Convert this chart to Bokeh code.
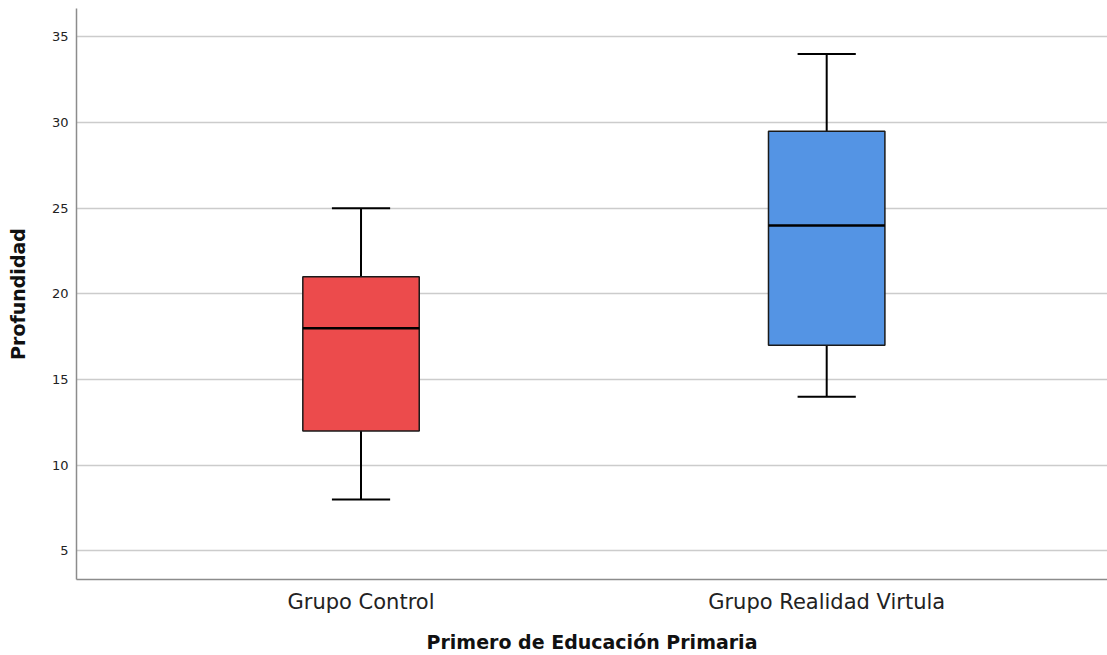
from bokeh.plotting import figure
from bokeh.models import Range1d, FixedTicker
from bokeh.embed import file_html
from bokeh.resources import INLINE

# ---- data ----
categories = ["Grupo Control", "Grupo Realidad Virtula"]
whisker_low = [8, 14]
q1 = [12, 17]
median = [18, 24]
q3 = [21, 29.5]
whisker_high = [25, 34]
box_colors = ["#EC4B4C", "#5494E4"]
y_ticks = [5, 10, 15, 20, 25, 30, 35]

xs = list(range(1, len(categories) + 1))
box_w = 0.25
cap_w = 0.125

p = figure(width=1107, height=655, output_backend="svg", toolbar_location=None,
           x_range=Range1d(0.389, 2.603), y_range=Range1d(3.33, 36.66),
           min_border_left=76, min_border_right=0, min_border_top=8, min_border_bottom=76)
p.outline_line_color = None
p.background_fill_color = "white"
p.border_fill_color = "white"

# whiskers
p.segment(x0=xs, y0=q3, x1=xs, y1=whisker_high, line_color="black", line_width=2)
p.segment(x0=xs, y0=q1, x1=xs, y1=whisker_low, line_color="black", line_width=2)
# boxes
p.vbar(x=xs, width=box_w, bottom=q1, top=q3, fill_color=box_colors,
       line_color="#1a1a1a", line_width=1.5)
# medians
p.segment(x0=[x - box_w / 2 for x in xs], y0=median, x1=[x + box_w / 2 for x in xs],
          y1=median, line_color="black", line_width=2.5)
# caps
p.segment(x0=[x - cap_w / 2 for x in xs], y0=whisker_high, x1=[x + cap_w / 2 for x in xs],
          y1=whisker_high, line_color="black", line_width=2)
p.segment(x0=[x - cap_w / 2 for x in xs], y0=whisker_low, x1=[x + cap_w / 2 for x in xs],
          y1=whisker_low, line_color="black", line_width=2)

# axes
p.xaxis.ticker = FixedTicker(ticks=xs)
p.xaxis.major_label_overrides = {x: c for x, c in zip(xs, categories)}
p.yaxis.ticker = FixedTicker(ticks=y_ticks)
for ax in (p.xaxis, p.yaxis):
    ax.major_tick_line_color = None
    ax.minor_tick_line_color = None
    ax.axis_line_color = "#8c8c8c"
    ax.axis_line_width = 1.5
    ax.major_label_text_color = "#222222"
    ax.axis_label_text_color = "#111111"
    ax.axis_label_text_font_style = "bold"
    ax.axis_label_text_font = "DejaVu Sans"
    ax.major_label_text_font = "DejaVu Sans"

p.xaxis.axis_label = "Primero de Educación Primaria"
p.yaxis.axis_label = "Profundidad"
p.xaxis.major_label_text_font_size = "21px"
p.yaxis.major_label_text_font_size = "13px"
p.xaxis.axis_label_text_font_size = "19px"
p.yaxis.axis_label_text_font_size = "19px"
p.xaxis.major_label_standoff = 4
p.xaxis.axis_label_standoff = 14
p.yaxis.major_label_standoff = 2
p.yaxis.axis_label_standoff = 20

p.xgrid.grid_line_color = None
p.ygrid.grid_line_color = "#CCCCCC"
p.ygrid.grid_line_width = 1.5

open("out.html", "w").write(file_html(p, INLINE))
